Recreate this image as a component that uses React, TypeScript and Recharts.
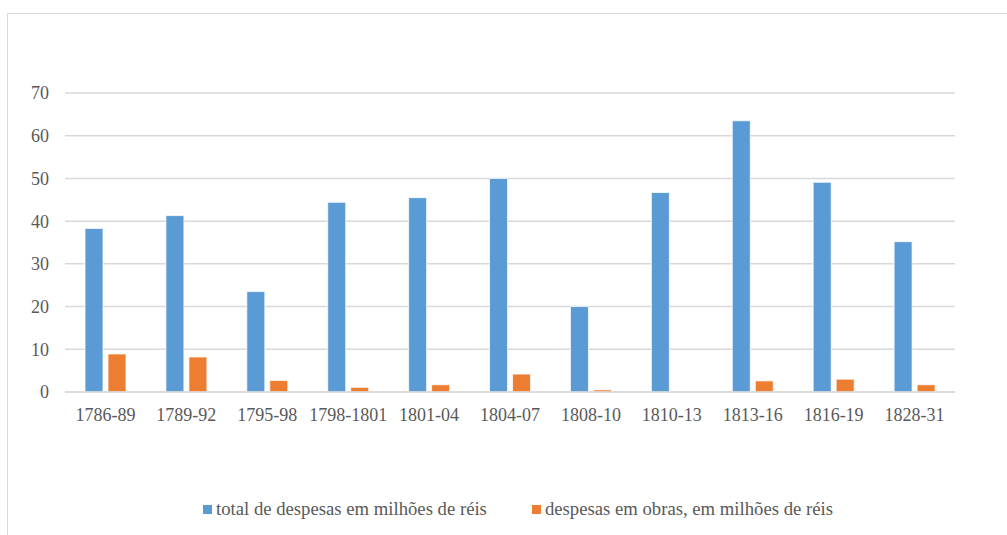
import { BarChart, Bar, XAxis, YAxis, CartesianGrid, Legend } from 'recharts';

const periods = ['1786-89', '1789-92', '1795-98', '1798-1801', '1801-04', '1804-07', '1808-10', '1810-13', '1813-16', '1816-19', '1828-31'];
const totalDespesas = [38.3, 41.3, 23.5, 44.4, 45.5, 50.0, 20.0, 46.7, 63.5, 49.1, 35.2];
const despesasObras = [8.9, 8.2, 2.7, 1.1, 1.7, 4.2, 0.5, 0, 2.6, 3.0, 1.7];
const yTicks = [0, 10, 20, 30, 40, 50, 60, 70];
const seriesOrder = ['total', 'obras'];

const data = periods.map((p, i) => ({
  period: p,
  total: totalDespesas[i],
  obras: despesasObras[i],
}));

const FONT = '"Liberation Serif", "Times New Roman", serif';
const TEXT = '#595959';

function LegendContent({ payload }: any) {
  const items = [...(payload || [])].sort(
    (a: any, b: any) => seriesOrder.indexOf(a.dataKey) - seriesOrder.indexOf(b.dataKey)
  );
  return (
    <div style={{ display: 'flex', alignItems: 'center', height: 30, fontFamily: FONT, fontSize: 18.7, color: TEXT, whiteSpace: 'nowrap' }}>
      {items.map((entry: any, i: number) => (
        <div key={entry.value} style={{ display: 'flex', alignItems: 'center', marginRight: i === 0 ? 45 : 0 }}>
          <span style={{ display: 'inline-block', width: 9, height: 9, background: entry.color, marginRight: 4 }} />
          <span>{entry.value}</span>
        </div>
      ))}
    </div>
  );
}

export default function App() {
  return (
    <div style={{ position: 'fixed', left: 0, top: 0, width: 1007, height: 535, overflow: 'hidden', background: '#fff', fontFamily: FONT }}>
      <div style={{ position: 'absolute', left: 7, top: 13, width: 1010, height: 540, border: '1px solid #d9d9d9' }} />
      <div style={{ position: 'absolute', left: 0, top: 0 }}>
        <BarChart
          width={1007}
          height={535}
          data={data}
          margin={{ top: 93, right: 52, left: 0, bottom: 11 }}
          barSize={18}
          barGap={5}
          style={{ fontFamily: FONT }}
        >
          <CartesianGrid vertical={false} stroke="#d9d9d9" strokeWidth={1.5} />
          <XAxis
            dataKey="period"
            axisLine={{ stroke: '#d9d9d9', strokeWidth: 1.5 }}
            tickLine={false}
            tickMargin={10}
            height={102}
            interval={0}
            tick={{ fill: TEXT, fontSize: 18, fontFamily: FONT }}
          />
          <YAxis
            width={65}
            domain={[0, 70]}
            ticks={yTicks}
            axisLine={false}
            tickLine={false}
            tickMargin={10}
            tick={{ fill: TEXT, fontSize: 18, fontFamily: FONT }}
          />
          <Legend
            verticalAlign="bottom"
            height={30}
            content={<LegendContent />}
            wrapperStyle={{ left: 203, width: 720 }}
          />
          <Bar dataKey="total" name="total de despesas em milhões de réis" fill="#5b9bd5" stroke="#ffffff" strokeWidth={0.75} isAnimationActive={false} />
          <Bar dataKey="obras" name="despesas em obras, em milhões de réis" fill="#ed7d31" stroke="#ffffff" strokeWidth={0.75} isAnimationActive={false} />
        </BarChart>
      </div>
    </div>
  );
}
